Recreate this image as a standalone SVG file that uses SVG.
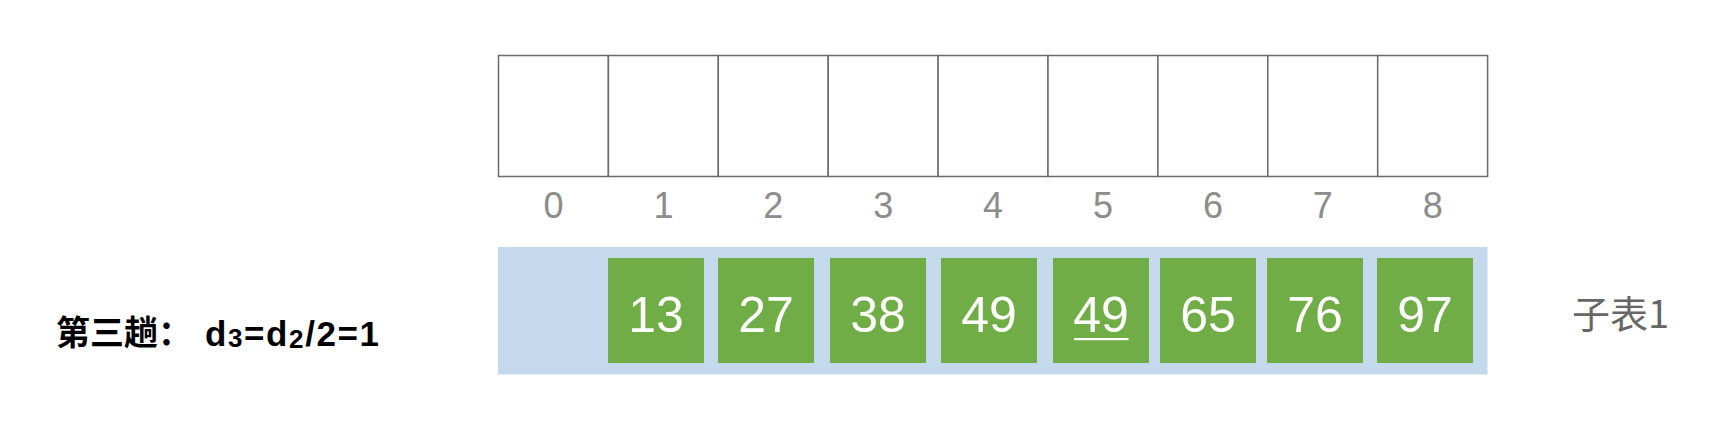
<svg xmlns="http://www.w3.org/2000/svg" width="1719" height="423" viewBox="0 0 1719 423">
<style>
.cell{fill:#ffffff;stroke:#6b6b6b;stroke-width:1.5}
.idx{font-family:"Liberation Sans",Arial,sans-serif;font-size:36px;fill:#8c8c8c;text-anchor:middle}
.g{fill:#70ad47}
.v{font-family:"Liberation Sans",Arial,sans-serif;font-size:50px;fill:#ffffff;text-anchor:middle}
.t{font-family:"Liberation Sans","Noto Sans CJK SC",sans-serif;font-weight:bold;fill:#000000}
</style>
<rect width="1719" height="423" fill="#ffffff"/>
<g id="array">
<rect class="cell" x="498.5" y="55.5" width="109.9" height="121"/>
<rect class="cell" x="608.4" y="55.5" width="109.9" height="121"/>
<rect class="cell" x="718.3" y="55.5" width="109.9" height="121"/>
<rect class="cell" x="828.2" y="55.5" width="109.9" height="121"/>
<rect class="cell" x="938.1" y="55.5" width="109.9" height="121"/>
<rect class="cell" x="1048" y="55.5" width="109.9" height="121"/>
<rect class="cell" x="1157.9" y="55.5" width="109.9" height="121"/>
<rect class="cell" x="1267.8" y="55.5" width="109.9" height="121"/>
<rect class="cell" x="1377.7" y="55.5" width="109.9" height="121"/>
</g>
<g id="indices">
<text class="idx" x="553.5" y="218">0</text>
<text class="idx" x="663.4" y="218">1</text>
<text class="idx" x="773.3" y="218">2</text>
<text class="idx" x="883.2" y="218">3</text>
<text class="idx" x="993.1" y="218">4</text>
<text class="idx" x="1103" y="218">5</text>
<text class="idx" x="1212.9" y="218">6</text>
<text class="idx" x="1322.8" y="218">7</text>
<text class="idx" x="1432.7" y="218">8</text>
</g>
<g id="sublist">
<rect x="498" y="247" width="989.5" height="127.5" fill="#c5d9ed"/>
<g id="n1"><rect class="g" x="608" y="258" width="96" height="105"/><text class="v" x="656" y="331.5">13</text></g>
<g id="n2"><rect class="g" x="718" y="258" width="96" height="105"/><text class="v" x="766" y="331.5">27</text></g>
<g id="n3"><rect class="g" x="830" y="258" width="96" height="105"/><text class="v" x="878" y="331.5">38</text></g>
<g id="n4"><rect class="g" x="941" y="258" width="96" height="105"/><text class="v" x="989" y="331.5">49</text></g>
<g id="n5"><rect class="g" x="1053" y="258" width="96" height="105"/><text class="v" x="1101" y="331.5">49</text><rect x="1074" y="338" width="54.5" height="2.2" fill="#ffffff"/></g>
<g id="n6"><rect class="g" x="1160" y="258" width="96" height="105"/><text class="v" x="1208" y="331.5">65</text></g>
<g id="n7"><rect class="g" x="1267" y="258" width="96" height="105"/><text class="v" x="1315" y="331.5">76</text></g>
<g id="n8"><rect class="g" x="1377" y="258" width="96" height="105"/><text class="v" x="1425" y="331.5">97</text></g>
</g>
<g id="sublabel">
<text x="1572" y="328" font-family="'Noto Sans CJK SC','Liberation Sans',sans-serif" font-size="38" fill="#666666">子表1</text>
</g>
<g id="title">
<text class="t" x="56" y="345" font-size="34">第三趟：</text>
<text class="t" x="205" y="346" font-size="35" letter-spacing="1.6">d<tspan font-size="26" dy="1">3</tspan><tspan dy="-1">=d</tspan><tspan font-size="26" dy="2">2</tspan><tspan dy="-2">/2=1</tspan></text>
</g>
</svg>
